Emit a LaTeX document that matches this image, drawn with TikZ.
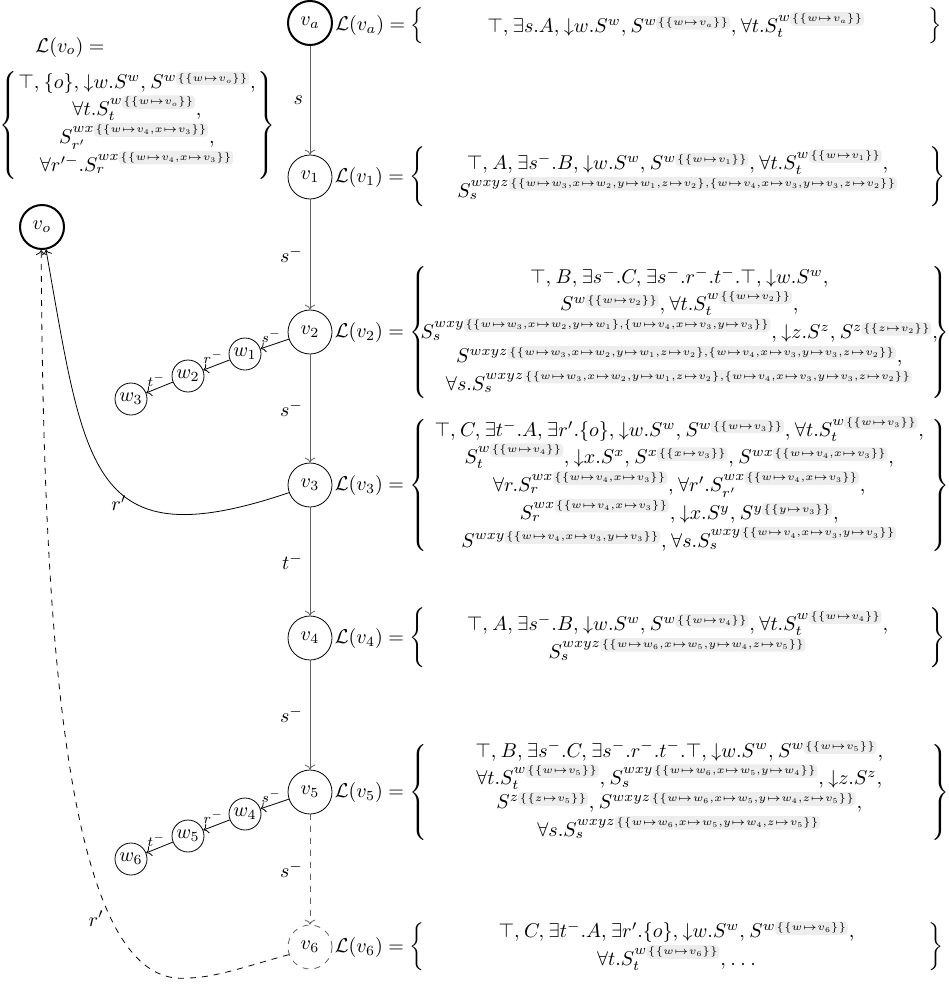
\documentclass[tikz,border=0pt]{standalone}
\usepackage{fix-cm}
\usepackage{amsmath,amssymb}
\usetikzlibrary{arrows.meta,positioning}
\definecolor{bindgray}{HTML}{EDEDED}
\definecolor{edgegray}{HTML}{606060}
\tikzset{
  >={To},
  every node/.style={font=\normalsize},
  vnode/.style={draw, circle, minimum size=22pt, inner sep=0pt},
  vroot/.style={vnode, line width=1pt},
  wnode/.style={draw, circle, minimum size=16pt, inner sep=0pt},
  chain/.style={->, draw=edgegray},
  wedge/.style={->},
  wlab/.style={pos=0.62, above, font=\scriptsize, inner sep=1pt},
  labelset/.style={anchor=west, inner sep=0pt},
  bindbox/.style={fill=bindgray, rounded corners=2pt, inner sep=0.8pt},
}
\newlength{\setwd}
\setlength{\setwd}{252pt}
\newcommand{\dn}{\mathord{\downarrow}}
\newcommand{\bnd}[1]{\tikz[baseline=(bx.base)]\node[bindbox] (bx) {\fontsize{5.2}{6.2}\selectfont$\thinmuskip=0mu \thickmuskip=0.5mu \{#1\}$};}
\newcommand{\labset}[2]{$\thinmuskip=4mu \mathcal{L}(#1) = \left\{\makebox[\setwd]{$\thinmuskip=4mu\begin{array}{@{}c@{}}#2\end{array}$}\right\}$}

\begin{document}
\begin{tikzpicture}[x=0.5pt, y=-0.5pt]
\useasboundingbox (0,0) rectangle (948,985);

\node[vroot] (va) at (310,23) {$v_a$};
\node[vnode] (v1) at (310,177) {$v_1$};
\node[vnode] (v2) at (310,332) {$v_2$};
\node[vnode] (v3) at (310,485) {$v_3$};
\node[vnode] (v4) at (310,638) {$v_4$};
\node[vnode] (v5) at (310,792) {$v_5$};
\node[vnode, dashed, draw=edgegray] (v6) at (310,947) {$v_6$};
\node[vroot] (vo) at (42,227) {$v_o$};

\node[wnode] (w1) at (245,354) {$w_1$};
\node[wnode] (w2) at (188,376) {$w_2$};
\node[wnode] (w3) at (131,399) {$w_3$};
\node[wnode] (w4) at (245,814) {$w_4$};
\node[wnode] (w5) at (188,836) {$w_5$};
\node[wnode] (w6) at (131,859) {$w_6$};

\draw[chain] (va) -- node[left]{$s$} (v1);
\draw[chain] (v1) -- node[left]{$s^-$} (v2);
\draw[chain] (v2) -- node[left]{$s^-$} (v3);
\draw[chain] (v3) -- node[left]{$t^-$} (v4);
\draw[chain] (v4) -- node[left]{$s^-$} (v5);
\draw[chain, dashed] (v5) -- node[left]{$s^-$} (v6);

\draw[wedge] (v2) -- node[wlab]{$s^-$} (w1);
\draw[wedge] (w1) -- node[wlab]{$r^-$} (w2);
\draw[wedge] (w2) -- node[wlab]{$t^-$} (w3);
\draw[wedge] (v5) -- node[wlab]{$s^-$} (w4);
\draw[wedge] (w4) -- node[wlab]{$r^-$} (w5);
\draw[wedge] (w5) -- node[wlab]{$t^-$} (w6);

\draw[->] (v3.200) .. controls (90,560) and (85,470) .. node[pos=0.38, left]{$r'$} (vo.280);
\draw[->, dashed] (v6.200) .. controls (250,965) and (215,978) .. (187,978)
  .. controls (60,990) and (43,600) .. node[pos=0.25, left]{$r'$} (vo.268);

\node (lvotitle) at (70,47) {$\mathcal{L}(v_o) =$};
\node (lvo) at (137,125) {$\thinmuskip=4mu\left\{\makebox[120pt]{$\thinmuskip=4mu\begin{array}{@{}c@{}}
  \top, \{o\}, \dn w.S^w, S^{w\bnd{\{w\mapsto v_o\}}},\\
  \forall t.S_t^{w\bnd{\{w\mapsto v_o\}}},\\
  S_{r'}^{wx\bnd{\{w\mapsto v_4,x\mapsto v_3\}}},\\
  \forall r'^-.S_r^{wx\bnd{\{w\mapsto v_4,x\mapsto v_3\}}}
  \end{array}$}\right\}$};

\node[labelset, right=1pt of va, yshift=-1.5pt] (lva) {\labset{v_a}{
  \top, \exists s.A, \dn w.S^w, S^{w\bnd{\{w\mapsto v_a\}}}, \forall t.S_t^{w\bnd{\{w\mapsto v_a\}}}}};
\node[labelset, right=1pt of v1] (lv1) {\labset{v_1}{
  \top, A, \exists s^-.B, \dn w.S^w, S^{w\bnd{\{w\mapsto v_1\}}}, \forall t.S_t^{w\bnd{\{w\mapsto v_1\}}},\\
  S_s^{wxyz\bnd{\{w\mapsto w_3,x\mapsto w_2,y\mapsto w_1,z\mapsto v_2\},\{w\mapsto v_4,x\mapsto v_3,y\mapsto v_3,z\mapsto v_2\}}}}};
\node[labelset, right=1pt of v2] (lv2) {\labset{v_2}{
  \top, B, \exists s^-.C, \exists s^-.r^-.t^-.\top, \dn w.S^w,\\
  S^{w\bnd{\{w\mapsto v_2\}}}, \forall t.S_t^{w\bnd{\{w\mapsto v_2\}}},\\
  S_s^{wxy\bnd{\{w\mapsto w_3,x\mapsto w_2,y\mapsto w_1\},\{w\mapsto v_4,x\mapsto v_3,y\mapsto v_3\}}}, \dn z.S^z, S^{z\bnd{\{z\mapsto v_2\}}},\\
  S^{wxyz\bnd{\{w\mapsto w_3,x\mapsto w_2,y\mapsto w_1,z\mapsto v_2\},\{w\mapsto v_4,x\mapsto v_3,y\mapsto v_3,z\mapsto v_2\}}},\\
  \forall s.S_s^{wxyz\bnd{\{w\mapsto w_3,x\mapsto w_2,y\mapsto w_1,z\mapsto v_2\},\{w\mapsto v_4,x\mapsto v_3,y\mapsto v_3,z\mapsto v_2\}}}}};
\node[labelset, right=1pt of v3] (lv3) {\labset{v_3}{
  \top, C, \exists t^-.A, \exists r'.\{o\}, \dn w.S^w, S^{w\bnd{\{w\mapsto v_3\}}}, \forall t.S_t^{w\bnd{\{w\mapsto v_3\}}},\\
  S_t^{w\bnd{\{w\mapsto v_4\}}}, \dn x.S^x, S^{x\bnd{\{x\mapsto v_3\}}}, S^{wx\bnd{\{w\mapsto v_4,x\mapsto v_3\}}},\\
  \forall r.S_r^{wx\bnd{\{w\mapsto v_4,x\mapsto v_3\}}}, \forall r'.S_{r'}^{wx\bnd{\{w\mapsto v_4,x\mapsto v_3\}}},\\
  S_r^{wx\bnd{\{w\mapsto v_4,x\mapsto v_3\}}}, \dn x.S^y, S^{y\bnd{\{y\mapsto v_3\}}},\\
  S^{wxy\bnd{\{w\mapsto v_4,x\mapsto v_3,y\mapsto v_3\}}}, \forall s.S_s^{wxy\bnd{\{w\mapsto v_4,x\mapsto v_3,y\mapsto v_3\}}}}};
\node[labelset, right=1pt of v4] (lv4) {\labset{v_4}{
  \top, A, \exists s^-.B, \dn w.S^w, S^{w\bnd{\{w\mapsto v_4\}}}, \forall t.S_t^{w\bnd{\{w\mapsto v_4\}}},\\
  S_s^{wxyz\bnd{\{w\mapsto w_6,x\mapsto w_5,y\mapsto w_4,z\mapsto v_5\}}}}};
\node[labelset, right=1pt of v5] (lv5) {\labset{v_5}{
  \top, B, \exists s^-.C, \exists s^-.r^-.t^-.\top, \dn w.S^w, S^{w\bnd{\{w\mapsto v_5\}}},\\
  \forall t.S_t^{w\bnd{\{w\mapsto v_5\}}}, S_s^{wxy\bnd{\{w\mapsto w_6,x\mapsto w_5,y\mapsto w_4\}}}, \dn z.S^z,\\
  S^{z\bnd{\{z\mapsto v_5\}}}, S^{wxyz\bnd{\{w\mapsto w_6,x\mapsto w_5,y\mapsto w_4,z\mapsto v_5\}}},\\
  \forall s.S_s^{wxyz\bnd{\{w\mapsto w_6,x\mapsto w_5,y\mapsto w_4,z\mapsto v_5\}}}}};
\node[labelset, right=1pt of v6] (lv6) {\labset{v_6}{
  \top, C, \exists t^-.A, \exists r'.\{o\}, \dn w.S^w, S^{w\bnd{\{w\mapsto v_6\}}},\\
  \forall t.S_t^{w\bnd{\{w\mapsto v_6\}}}, \ldots}};
\end{tikzpicture}
\end{document}
